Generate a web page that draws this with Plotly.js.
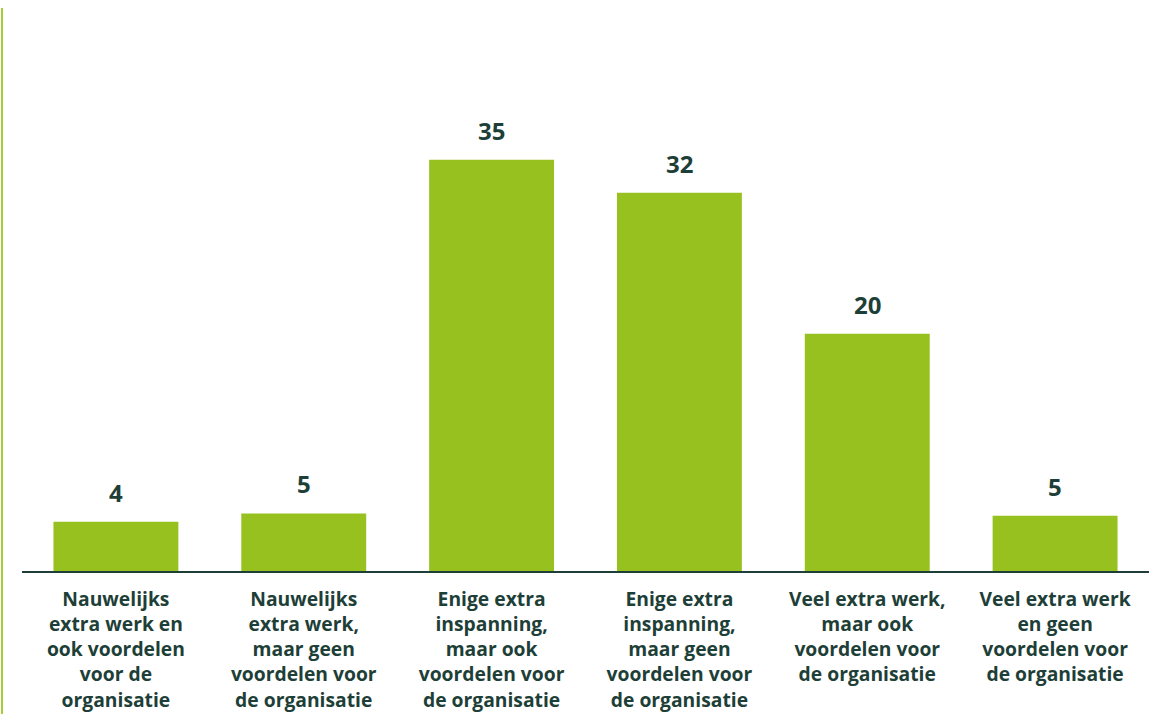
<!DOCTYPE html>
<html>
<head>
<meta charset="utf-8">
<script src="https://cdn.plot.ly/plotly-3.0.1.min.js"></script>
<style>html,body{margin:0;padding:0;background:#fff;}#chart{width:1169px;height:714px;}</style>
</head>
<body>
<div id="chart"></div>
<script>
const categories = [
  "Nauwelijks<br>extra werk en<br>ook voordelen<br>voor de<br>organisatie",
  "Nauwelijks<br>extra werk,<br>maar geen<br>voordelen voor<br>de organisatie",
  "Enige extra<br>inspanning,<br>maar ook<br>voordelen voor<br>de organisatie",
  "Enige extra<br>inspanning,<br>maar geen<br>voordelen voor<br>de organisatie",
  "Veel extra werk,<br>maar ook<br>voordelen voor<br>de organisatie",
  "Veel extra werk<br>en geen<br>voordelen voor<br>de organisatie"
];
const values = [4.2, 4.9, 35, 32.2, 20.2, 4.7];
const valueLabels = ["4", "5", "35", "32", "20", "5"];

const barColor = "#96c11f";
const textColor = "#1e3f38";
const fontFamily = "'Open Sans', 'DejaVu Sans', sans-serif";

const trace = {
  type: "bar",
  x: categories,
  y: values,
  marker: { color: barColor },
  hoverinfo: "none"
};

const annotations = categories.map((c, i) => ({
  x: c, y: values[i], xref: "x", yref: "y",
  text: "<b>" + valueLabels[i] + "</b>",
  showarrow: false, yanchor: "bottom", yshift: 11,
  font: { family: fontFamily, size: 24, color: textColor }
}));

const W = 1169, H = 714, L = 22, R = 1169 - 1149, T = 101, B = 714 - 571;
const plotW = W - L - R, plotH = H - T - B;

const layout = {
  width: W, height: H,
  margin: { l: L, r: R, t: T, b: B, pad: 0 },
  paper_bgcolor: "#ffffff",
  plot_bgcolor: "#ffffff",
  bargap: 0.335,
  showlegend: false,
  xaxis: {
    showgrid: false, zeroline: false,
    showline: true, linecolor: textColor, linewidth: 2,
    ticks: "", ticklabelstandoff: 10,
    tickfont: { family: fontFamily, size: 19.3, color: textColor, weight: "bold" },
    tickangle: 0, fixedrange: true
  },
  yaxis: {
    range: [0, 40], visible: false, showgrid: false, zeroline: false, fixedrange: true
  },
  annotations: annotations,
  shapes: [{
    type: "line", xref: "paper", yref: "paper",
    x0: (2 - L) / plotW, x1: (2 - L) / plotW,
    y0: -(B) / plotH, y1: 1 + (T - 8) / plotH,
    line: { color: "#a6cc3a", width: 2 }
  }]
};

Plotly.newPlot("chart", [trace], layout, { displayModeBar: false, staticPlot: true });
</script>
</body>
</html>
